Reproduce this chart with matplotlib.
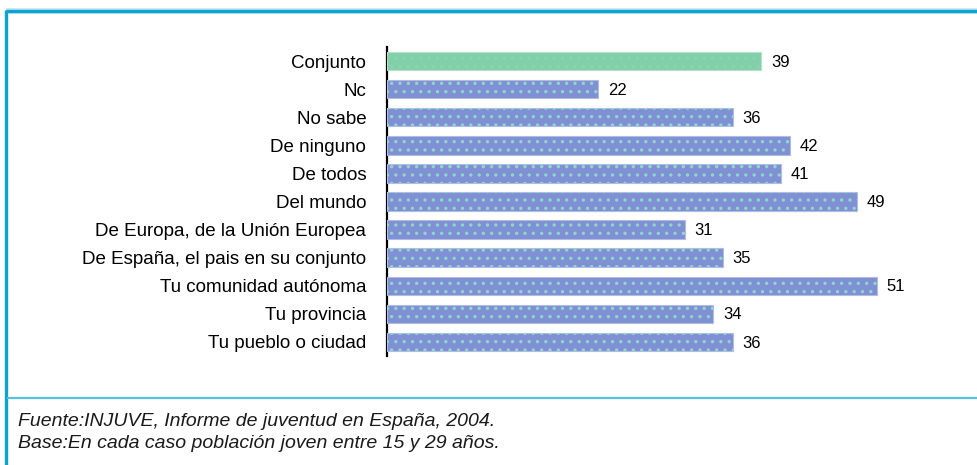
import matplotlib
matplotlib.use("Agg")
import matplotlib.pyplot as plt
from matplotlib.lines import Line2D

categories = [
    "Conjunto",
    "Nc",
    "No sabe",
    "De ninguno",
    "De todos",
    "Del mundo",
    "De Europa, de la Unión Europea",
    "De España, el pais en su conjunto",
    "Tu comunidad autónoma",
    "Tu provincia",
    "Tu pueblo o ciudad",
]
values = [39, 22, 36, 42, 41, 49, 31, 35, 51, 34, 36]
footer_lines = [
    "Fuente:INJUVE, Informe de juventud en España, 2004.",
    "Base:En cada caso población joven entre 15 y 29 años.",
]

W, H = 978, 465
fig = plt.figure(figsize=(W / 100, H / 100), dpi=100)

label_family = ["Liberation Sans", "DejaVu Sans"]

# plot area in pixels
ax_left, ax_right = 387, 947
ax_top, ax_bottom = 47, 356
ax = fig.add_axes([ax_left / W, 1 - ax_bottom / H,
                   (ax_right - ax_left) / W, (ax_bottom - ax_top) / H])
ax.set_xlim(0, (ax_right - ax_left) / 9.6)
ax.set_ylim(len(categories) - 0.5, -0.5)

blue = "#7f90d4"
green = "#82d0aa"
ypos = list(range(len(categories)))
colors = [green] + [blue] * (len(categories) - 1)
edges = ["#b3e2c9"] + ["#b0bbe6"] * (len(categories) - 1)

ax.barh(ypos, values, height=0.66, color=colors, edgecolor=edges,
        linewidth=0.8, zorder=3)
plt.rcParams["hatch.linewidth"] = 1.2
dot_colors = ["#8ad4b0"] + ["#8fd8c8"] * (len(categories) - 1)
for y, v, dc in zip(ypos, values, dot_colors):
    ax.barh(y, v, height=0.66, fill=False, hatch="..", edgecolor=dc,
            linewidth=0, zorder=4)

for y, v in zip(ypos, values):
    ax.text(v + 1.0, y + 0.04, str(v), va="center", ha="left", fontsize=12,
            family=label_family, color="#000000", zorder=5)

ax.set_yticks(ypos)
ax.set_yticklabels(categories, family=label_family, fontsize=13.5,
                   color="#000000")
ax.tick_params(axis="y", length=0, pad=15)
ax.set_xticks([])
for s in ["top", "right", "bottom"]:
    ax.spines[s].set_visible(False)
ax.spines["left"].set_color("black")
ax.spines["left"].set_linewidth(1.6)
ax.spines["left"].set_zorder(2)
ax.set_facecolor("none")

# frame lines
def px_line(x0, y0, x1, y1, color, lw):
    fig.add_artist(Line2D([x0 / W, x1 / W], [1 - y0 / H, 1 - y1 / H],
                          color=color, linewidth=lw, transform=fig.transFigure,
                          solid_capstyle="butt"))

px_line(5.5, 11.5, W, 11.5, "#c4e6f2", 4.2)
px_line(5.5, 11.5, W, 11.5, "#0ea2cf", 2.4)
px_line(6.5, 10, 6.5, H, "#0ea2cf", 2.4)
px_line(7.5, 397.5, W, 397.5, "#55c0e0", 1.6)

for i, line in enumerate(footer_lines):
    fig.text(18 / W, 1 - (421 + 22 * i) / H, line, ha="left", va="center",
             fontsize=14, style="italic",
             family=["Liberation Sans", "DejaVu Sans"], color="#1a1a1a")

fig.savefig("out.png", dpi=100)
